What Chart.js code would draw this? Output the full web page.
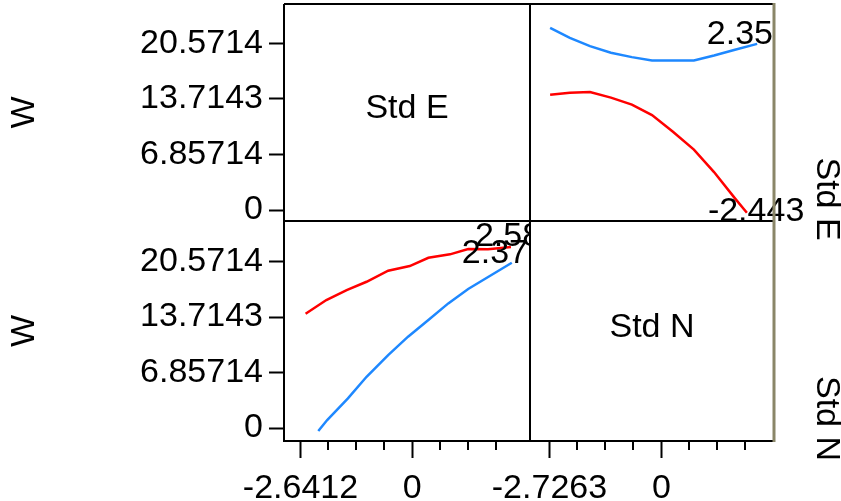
<!DOCTYPE html>
<html>
<head>
<meta charset="utf-8">
<script src="https://cdn.jsdelivr.net/npm/chart.js@4/dist/chart.umd.min.js"></script>
<style>
  html, body { margin: 0; padding: 0; background: #fff; }
  #wrap { width: 841px; height: 501px; position: relative; }
</style>
</head>
<body>
<div id="wrap"><canvas id="myChart"></canvas></div>
<script>
const FONT = '"Liberation Sans", Arial, sans-serif';

// upper right panel: W against Std N
const upperBlueX = [-2.71, -2.23, -1.74, -1.23, -0.72, -0.23, 0.28, 0.79, 1.28, 1.79, 2.33];
const upperBlueW = [22.46, 21.22, 20.20, 19.40, 18.85, 18.45, 18.44, 18.44, 19.06, 19.77, 20.48];
const upperRedX = [-2.71, -2.23, -1.74, -1.23, -0.72, -0.23, 0.28, 0.79, 1.28, 1.79, 2.08];
const upperRedW = [14.20, 14.45, 14.54, 13.86, 13.00, 11.70, 9.65, 7.45, 4.68, 1.44, -0.33];

// lower left panel: W against Std E
const lowerRedX = [-2.52, -2.03, -1.55, -1.08, -0.57, -0.06, 0.38, 0.89, 1.32, 1.79, 2.33];
const lowerRedW = [14.13, 15.82, 17.06, 18.08, 19.44, 20.02, 21.05, 21.47, 22.13, 22.09, 22.37];
const lowerBlueX = [-2.22, -2.01, -1.52, -1.08, -0.57, -0.10, 0.38, 0.85, 1.32, 1.83, 2.35];
const lowerBlueW = [-0.37, 0.99, 3.67, 6.34, 9.02, 11.29, 13.35, 15.41, 17.18, 18.79, 20.43];

// level labels shown at the end of each curve
const curveLabels = ['2.35', '-2.443', '2.58', '2.37'];

// axes
const wTicks = [0, 6.85714, 13.7143, 20.5714];
const wTickLabels = ['0', '6.85714', '13.7143', '20.5714'];
const stdETicks = [-2.6412, -1.9809, -1.3206, -0.6603, 0, 0.6603, 1.3206, 1.9809];
const stdETickLabels = ['-2.6412', '', '', '', '0', '', '', ''];
const stdNTicks = [-2.7263, -2.0447, -1.3632, -0.6816, 0, 0.6816, 1.3632, 2.0447];
const stdNTickLabels = ['-2.7263', '', '', '', '0', '', '', ''];

const BLUE = '#1e88ff';
const RED = '#ff0000';

function pts(xs, ys) {
    return xs.map((x, i) => ({ x: x, y: ys[i] }));
}

function xAxis(ticks, labels, min, max, weight) {
    return {
        type: 'linear',
        position: 'bottom',
        stack: 'cols',
        stackWeight: weight,
        min: min,
        max: max,
        afterBuildTicks: axis => { axis.ticks = ticks.map(v => ({ value: v })); },
        afterFit: axis => {
            axis.height = 60;
            axis.paddingLeft = 0;
            axis.paddingRight = 0;
        },
        border: { display: false },
        grid: {
            drawOnChartArea: false,
            drawTicks: true,
            tickLength: 17,
            tickWidth: 2,
            tickColor: ctx => labels[ctx.index] ? '#000' : 'rgba(0,0,0,0)'
        },
        ticks: {
            autoSkip: false,
            maxRotation: 0,
            minRotation: 0,
            padding: 10,
            color: '#000',
            font: { family: FONT, size: 34 },
            callback: (v, i) => labels[i]
        }
    };
}

function yAxis(min, max, weight) {
    return {
        type: 'linear',
        position: 'left',
        stack: 'rows',
        stackWeight: weight,
        min: min,
        max: max,
        afterBuildTicks: axis => { axis.ticks = wTicks.map(v => ({ value: v })); },
        afterFit: axis => {
            axis.width = 284;
            axis.paddingTop = 0;
            axis.paddingBottom = 0;
        },
        border: { display: false },
        grid: {
            drawOnChartArea: false,
            drawTicks: true,
            tickLength: 15,
            tickWidth: 2,
            tickColor: '#000'
        },
        ticks: {
            autoSkip: false,
            padding: 6,
            color: '#000',
            font: { family: FONT, size: 34 },
            callback: (v, i) => wTickLabels[i]
        },
        title: {
            display: true,
            text: 'W',
            color: '#000',
            font: { family: FONT, size: 34 },
            padding: { top: 4, bottom: 0 }
        }
    };
}

function line(data, color, xId, yId) {
    return {
        data: data,
        xAxisID: xId,
        yAxisID: yId,
        borderColor: color,
        borderWidth: 2.5,
        pointRadius: 0,
        tension: 0,
        fill: false
    };
}

const data = {
    datasets: [
        line(pts(upperBlueX, upperBlueW), BLUE, 'xR', 'yT'),
        line(pts(upperRedX, upperRedW), RED, 'xR', 'yT'),
        line(pts(lowerRedX, lowerRedW), RED, 'xL', 'yB'),
        line(pts(lowerBlueX, lowerBlueW), BLUE, 'xL', 'yB')
    ]
};

// curve labels, panel names and the boxed frame
const matrixPlugin = {
    id: 'matrix',
    afterDatasetsDraw(chart) {
        const { ctx, scales } = chart;
        const xL = scales.xL, xR = scales.xR, yT = scales.yT, yB = scales.yB;
        const endOf = i => {
            const d = chart.data.datasets[i].data;
            const p = d[d.length - 1];
            const meta = chart.getDatasetMeta(i);
            return { x: scales[meta.xAxisID].getPixelForValue(p.x), y: scales[meta.yAxisID].getPixelForValue(p.y) };
        };
        ctx.save();
        ctx.font = '34px ' + FONT;
        ctx.fillStyle = '#000';
        ctx.textBaseline = 'alphabetic';

        // upper right panel
        let e = endOf(0);
        ctx.textAlign = 'right';
        ctx.fillText(curveLabels[0], xR.right - 1, e.y);
        e = endOf(1);
        ctx.textAlign = 'left';
        ctx.fillText(curveLabels[1], e.x - 39, yT.bottom);

        // lower left panel, clipped to its box
        ctx.save();
        ctx.beginPath();
        ctx.rect(xL.left, yB.top, xL.right - xL.left, yB.bottom - yB.top);
        ctx.clip();
        e = endOf(2);
        ctx.textAlign = 'left';
        ctx.fillText(curveLabels[2], e.x - 36, e.y - 1);
        e = endOf(3);
        ctx.textAlign = 'right';
        ctx.fillText(curveLabels[3], xL.right - 2, e.y);
        ctx.restore();

        // diagonal panel names
        ctx.textAlign = 'center';
        ctx.fillText('Std E', (xL.left + xL.right) / 2, (yT.top + yT.bottom) / 2 + 5);
        ctx.fillText('Std N', (xR.left + xR.right) / 2, (yB.top + yB.bottom) / 2 + 6);

        // row names on the right
        [['Std E', yT], ['Std N', yB]].forEach(([txt, s]) => {
            ctx.save();
            ctx.translate(826, (s.top + s.bottom) / 2 + 45);
            ctx.rotate(Math.PI / 2);
            ctx.textAlign = 'left';
            ctx.textBaseline = 'middle';
            ctx.fillText(txt, 0, 0);
            ctx.restore();
        });
        ctx.restore();
    },
    afterDraw(chart) {
        const { ctx, chartArea: a, scales } = chart;
        ctx.save();
        ctx.strokeStyle = '#000';
        ctx.lineWidth = 2;
        ctx.beginPath();
        // short ticks between the labelled ones
        [[scales.xL, stdETickLabels], [scales.xR, stdNTickLabels]].forEach(([s, labels]) => {
            s.ticks.forEach((t, i) => {
                if (labels[i]) return;
                const x = Math.round(s.getPixelForValue(t.value));
                ctx.moveTo(x, a.bottom);
                ctx.lineTo(x, a.bottom + 9);
            });
        });
        // frame and dividers
        const midX = Math.round(scales.xL.right);
        const midY = Math.round(scales.yT.bottom);
        ctx.moveTo(a.left, a.top);
        ctx.lineTo(a.right, a.top);
        ctx.moveTo(a.left, a.top);
        ctx.lineTo(a.left, a.bottom);
        ctx.lineTo(a.right, a.bottom);
        ctx.moveTo(midX, a.top);
        ctx.lineTo(midX, a.bottom);
        ctx.moveTo(a.left, midY);
        ctx.lineTo(a.right, midY);
        ctx.stroke();
        ctx.strokeStyle = '#8a8668';
        ctx.lineWidth = 3;
        ctx.beginPath();
        ctx.moveTo(a.right, a.top - 1);
        ctx.lineTo(a.right, a.bottom + 1);
        ctx.stroke();
        ctx.restore();
    }
};

const config = {
    type: 'line',
    data: data,
    options: {
        responsive: true,
        maintainAspectRatio: false,
        animation: false,
        layout: { padding: { left: 0, top: 4, right: 67, bottom: 0 } },
        plugins: {
            legend: { display: false },
            tooltip: { enabled: false }
        },
        scales: {
            // left-hand stacks are laid out bottom first
            yB: yAxis(-1.6, 25.59, 220),
            yT: yAxis(-1.35, 25.4, 217),
            xL: xAxis(stdETicks, stdETickLabels, -3.03, 2.78, 246),
            xR: xAxis(stdNTicks, stdNTickLabels, -3.20, 2.74, 244)
        }
    },
    plugins: [matrixPlugin]
};

const ctx = document.getElementById('myChart').getContext('2d');
const myChart = new Chart(ctx, config);
</script>
</body>
</html>
